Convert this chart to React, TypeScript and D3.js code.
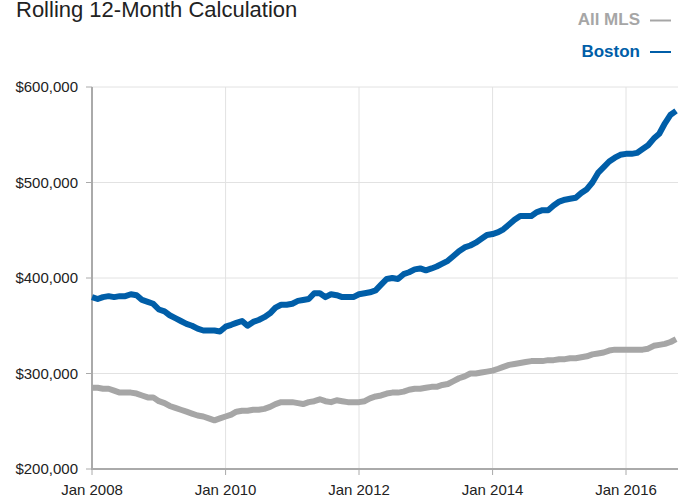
import React from 'react'
import * as d3 from 'd3'

// monthly values, Jan 2008 .. Oct 2016 (rolling 12-month median price)
const boston = [
  380, 378, 380, 381, 380, 381, 381, 383, 382, 377, 375, 373,
  367, 365, 361, 358, 355, 352, 350, 347, 345, 345, 345, 344,
  349, 351, 353, 355, 350, 354, 356, 359, 363, 369, 372, 372,
  373, 376, 377, 378, 384, 384, 380, 383, 382, 380, 380, 380,
  383, 384, 385, 387, 393, 399, 400, 399, 404, 406, 409, 410,
  408, 410, 412, 415, 418, 423, 428, 432, 434, 437, 441, 445,
  446, 448, 451, 456, 461, 465, 465, 465, 469, 471, 471, 476,
  480, 482, 483, 484, 489, 493, 500, 510, 516, 522, 526, 529,
  530, 530, 531, 535, 539, 546, 551, 562, 571, 575,
]

const allMls = [
  285, 285, 284, 284, 282, 280, 280, 280, 279, 277, 275, 275,
  271, 269, 266, 264, 262, 260, 258, 256, 255, 253, 251, 253,
  255, 257, 260, 261, 261, 262, 262, 263, 265, 268, 270, 270,
  270, 269, 268, 270, 271, 273, 271, 270, 272, 271, 270, 270,
  270, 271, 274, 276, 277, 279, 280, 280, 281, 283, 284, 284,
  285, 286, 286, 288, 289, 292, 295, 297, 300, 300, 301, 302,
  303, 305, 307, 309, 310, 311, 312, 313, 313, 313, 314, 314,
  315, 315, 316, 316, 317, 318, 320, 321, 322, 324, 325, 325,
  325, 325, 325, 325, 326, 329, 330, 331, 333, 336,
]

const yTicks = [200000, 300000, 400000, 500000, 600000]
const xTickYears = [2008, 2010, 2012, 2014, 2016]

const width = 678
const height = 496
const font = '"Liberation Sans", Arial, sans-serif'

const App = () => {
  const left = 92
  const top = 87
  const bottom = 469

  const x = d3.scaleTime()
    .domain([new Date(2008, 0, 1), new Date(2016, 0, 1)])
    .range([left, 626])
  const y = d3.scaleLinear()
    .domain([200000, 600000])
    .range([bottom, top])

  const monthDate = (i: number) => new Date(2008, i, 1)
  const line = d3.line<number>()
    .x((d, i) => x(monthDate(i)))
    .y(d => y(d * 1000))
    .curve(d3.curveLinear)

  const fmt = d3.format('$,')

  return (
    <svg width={width} height={height}
      style={{ position: 'absolute', left: 0, top: 0, background: '#fff' }}
      fontFamily={font}>
      <text x={16} y={16.5} fontSize={22} fill="#222">Rolling 12-Month Calculation</text>

      <text x={640} y={25} fontSize={17} fontWeight="bold" fill="#a6a6a6" textAnchor="end">All MLS</text>
      <line x1={650} x2={671} y1={20.5} y2={20.5} stroke="#a6a6a6" strokeWidth={2} />
      <text x={640} y={57} fontSize={17} fontWeight="bold" fill="#005ea8" textAnchor="end">Boston</text>
      <line x1={650} x2={671} y1={52} y2={52} stroke="#005ea8" strokeWidth={2} />

      {/* grid */}
      {yTicks.map(t => (
        <line key={'gy' + t} x1={left} x2={width} y1={y(t)} y2={y(t)} stroke="#e2e2e2" strokeWidth={1} />
      ))}
      {xTickYears.map(yr => (
        <line key={'gx' + yr} x1={x(new Date(yr, 0, 1))} x2={x(new Date(yr, 0, 1))}
          y1={top} y2={bottom} stroke="#e2e2e2" strokeWidth={1} />
      ))}

      {/* axes */}
      <line x1={left} x2={left} y1={top} y2={bottom + 1} stroke="#aaa" strokeWidth={2} />
      <line x1={left - 1} x2={width} y1={bottom} y2={bottom} stroke="#aaa" strokeWidth={2} />
      {yTicks.map(t => (
        <g key={'ty' + t}>
          <line x1={86} x2={left} y1={y(t)} y2={y(t)} stroke="#aaa" strokeWidth={1} />
          <text x={78} y={y(t)} dy="0.35em" fontSize={15} textAnchor="end" fill="#222">{fmt(t)}</text>
        </g>
      ))}
      {xTickYears.map(yr => (
        <g key={'tx' + yr}>
          <line x1={x(new Date(yr, 0, 1))} x2={x(new Date(yr, 0, 1))} y1={bottom} y2={bottom + 6} stroke="#aaa" strokeWidth={1} />
          <text x={x(new Date(yr, 0, 1))} y={495} fontSize={15} textAnchor="middle" fill="#222">Jan {yr}</text>
        </g>
      ))}

      <path d={line(allMls) || ''} fill="none" stroke="#a6a6a6" strokeWidth={6} strokeLinejoin="round" />
      <path d={line(boston) || ''} fill="none" stroke="#005ea8" strokeWidth={6} strokeLinejoin="round" />
    </svg>
  )
}

export default App
